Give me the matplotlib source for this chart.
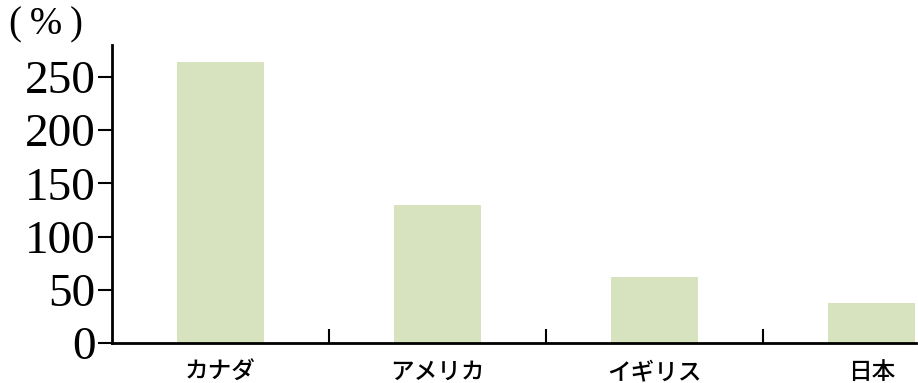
import matplotlib.pyplot as plt
import numpy as np

countries = ["カナダ", "アメリカ", "イギリス", "日本"]
values = [264, 130, 62, 38]
yticks = [0, 50, 100, 150, 200, 250]

fig = plt.figure(figsize=(9.18, 3.83), dpi=100)
ax = fig.add_axes([112 / 918, 40 / 383, 804 / 918, 298 / 383])

x = np.arange(len(countries))
ax.bar(x, values, width=0.4, color="#d7e3bf", zorder=1)

ax.set_xlim(-0.5, 3.205)
ax.set_ylim(0, 280)

for s in ["top", "right"]:
    ax.spines[s].set_visible(False)
for s in ["left", "bottom"]:
    ax.spines[s].set_linewidth(2)
    ax.spines[s].set_zorder(3)

ax.set_yticks(yticks)
ax.set_yticklabels([str(v) for v in yticks], fontfamily="Liberation Serif", fontsize=34)
ax.tick_params(axis="y", direction="out", length=10, width=1.5, pad=2)

# category labels, no marks; boundaries as inward minor ticks
ax.set_xticks(x)
ax.set_xticklabels(countries, fontfamily="Noto Sans CJK JP", fontsize=17,
                   fontweight="medium")
ax.tick_params(axis="x", which="major", length=0, pad=13)
ax.set_xticks(x[:-1] + 0.5, minor=True)
ax.tick_params(axis="x", which="minor", direction="in", length=10, width=1.5)

fig.text(9 / 918, 1 - 25 / 383, "(\u2009%\u2009)", fontfamily="Liberation Serif",
         fontsize=28, va="center", ha="left")

fig.savefig("out.png", dpi=100)
